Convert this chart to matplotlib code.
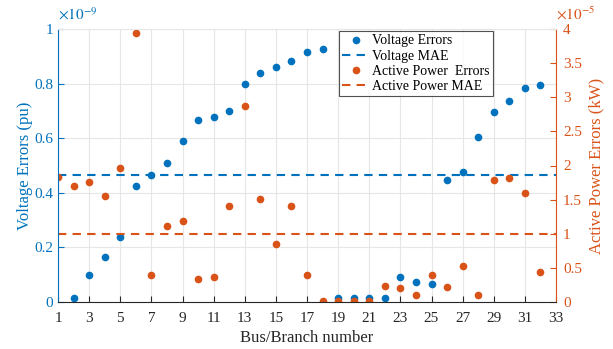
import numpy as np
import matplotlib
matplotlib.use("Agg")
import matplotlib.pyplot as plt

plt.rcParams['font.family'] = ['Liberation Serif', 'DejaVu Serif']
plt.rcParams['mathtext.fontset'] = 'stix'

# Data (voltage errors in 1e-9 pu, active power errors in 1e-5 kW)
bus = np.arange(1, 33)
voltage_err = [np.nan, 0.015, 0.10, 0.165, 0.237, 0.424, 0.467, 0.51, 0.59, 0.668,
               0.678, 0.70, 0.80, 0.838, 0.86, 0.883, 0.915, 0.925, 0.016, 0.016,
               0.016, 0.015, 0.09, 0.074, 0.066, 0.447, 0.475, 0.605, 0.697, 0.735,
               0.785, 0.795]
power_err = [1.83, 1.70, 1.76, 1.56, 1.97, 3.94, 0.40, 1.12, 1.18, 0.34,
             0.36, 1.40, 2.87, 1.51, 0.85, 1.40, 0.40, 0.02, 0.02, 0.02,
             0.02, 0.23, 0.20, 0.10, 0.40, 0.22, 0.53, 0.10, 1.79, 1.82,
             1.59, 0.44]
voltage_mae = 0.466
power_mae = 1.0

blue = '#0072BD'
orange = '#D95319'

fig = plt.figure(figsize=(6.13, 3.49), dpi=100)
ax = fig.add_axes([58 / 613, 1 - 302 / 349, (556 - 58) / 613, (302 - 29) / 349])
ax2 = ax.twinx()

h1, = ax.plot(bus, voltage_err, 'o', color=blue, markersize=4.5, label='Voltage Errors')
h2 = ax.axhline(voltage_mae, color=blue, linestyle=(0, (4, 3)), linewidth=1.5, label='Voltage MAE')
h3, = ax2.plot(bus, power_err, 'o', color=orange, markersize=4.5, label='Active Power  Errors')
h4 = ax2.axhline(power_mae, color=orange, linestyle=(0, (4, 3)), linewidth=1.5, label='Active Power MAE')

ax.set_xlim(1, 33)
ax.set_ylim(0, 1)
ax2.set_ylim(0, 4)
ax.set_xticks(np.arange(1, 34, 2))
ax.set_yticks([0, 0.2, 0.4, 0.6, 0.8, 1])
ax.set_yticklabels(['0', '0.2', '0.4', '0.6', '0.8', '1'])
ax2.set_yticks([0, 0.5, 1, 1.5, 2, 2.5, 3, 3.5, 4])
ax2.set_yticklabels(['0', '0.5', '1', '1.5', '2', '2.5', '3', '3.5', '4'])

ax.grid(True, color='#e6e6e6', linewidth=0.8)
ax.set_axisbelow(True)

for a in (ax, ax2):
    a.tick_params(direction='in', length=4, labelsize=11)
ax.tick_params(axis='y', colors=blue)
ax.tick_params(axis='x', colors='#262626', pad=7)
ax2.tick_params(axis='y', colors=orange, pad=5)

ax2.spines['left'].set_color(blue)
ax2.spines['right'].set_color(orange)
ax2.spines['bottom'].set_color('#262626')
ax2.spines['top'].set_color('#e6e6e6')
for s in ax.spines.values():
    s.set_visible(False)

ax.set_xlabel('Bus/Branch number', fontsize=12, color='#262626', labelpad=4)
ax.set_ylabel('Voltage Errors (pu)', fontsize=12, color=blue, labelpad=1)
ax2.set_ylabel('Active Power Errors (kW)', fontsize=12, color=orange, labelpad=5)

ax.text(0.0, 1.025, r'$\times10^{-9}$', transform=ax.transAxes, color=blue,
        fontsize=11, ha='left', va='bottom')
ax2.text(1.0, 1.025, r'$\times10^{-5}$', transform=ax2.transAxes, color=orange,
         fontsize=11, ha='left', va='bottom')

leg = ax2.legend(handles=[h1, h2, h3, h4], loc='upper left',
                 bbox_to_anchor=(339 / 613, 1 - 31 / 349), bbox_transform=fig.transFigure,
                 fontsize=10, frameon=True, fancybox=False, edgecolor='#262626',
                 handlelength=2.0, handletextpad=0.15, borderpad=0.25, labelspacing=0.15,
                 borderaxespad=0)
leg.get_frame().set_linewidth(0.8)

fig.savefig('out.png', dpi=100)
